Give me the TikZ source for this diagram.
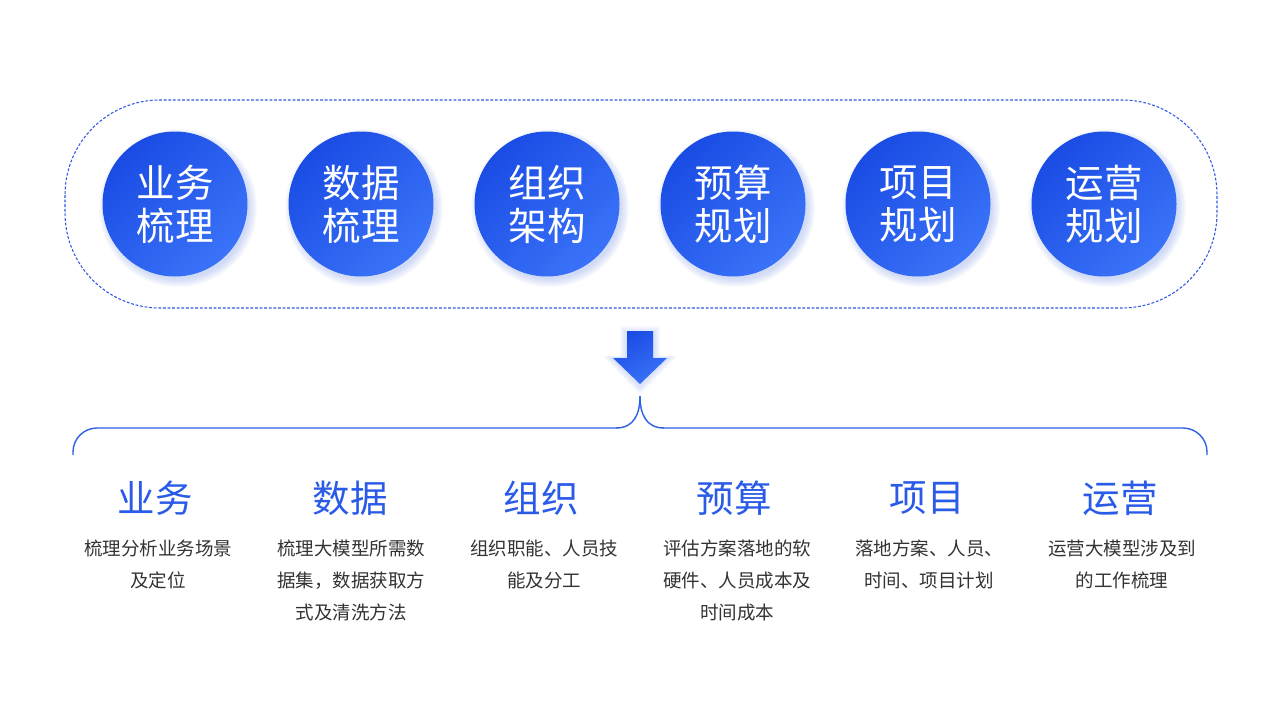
\documentclass[tikz,border=0pt]{standalone}
\usepackage{fontspec}
\setmainfont{Noto Sans CJK SC}
\usetikzlibrary{calc}
\definecolor{cdark}{HTML}{1A4CE4}
\definecolor{clight}{HTML}{3A73F8}
\definecolor{ttlblue}{HTML}{2A5BE8}
\definecolor{linblue}{HTML}{2E5FE8}
\definecolor{dashblue}{HTML}{2C58E4}
\definecolor{glow}{HTML}{8EA8F2}
\definecolor{desc}{HTML}{333333}
\tikzset{
  x=1pt,y=-1pt,
  ball/.style={circle,minimum size=145pt,inner sep=0pt,
    top color=cdark,bottom color=clight,shading angle=45,
    text=white,align=center,font=\fontsize{38.5}{43}\selectfont},
  ttl/.style={text=ttlblue,font=\fontsize{37.5}{43}\selectfont,inner sep=0pt},
  dsc/.style={text=desc,font=\fontsize{18.5}{32}\selectfont,align=center,inner sep=0pt,anchor=base},
}
\begin{document}
\begin{tikzpicture}
\useasboundingbox (0,0) rectangle (1280,720);
\fill[white] (0,0) rectangle (1280,720);
% dashed container
\draw[dashblue,line width=1.05pt,dash pattern=on 2.8pt off 1.8pt,rounded corners=95pt]
  (65,100) rectangle (1217,308);
% glows
\foreach \cx in {175,361,547,733,918,1104}{
  \foreach \r in {1,...,9}{
    \fill[glow,opacity=0.05] (\cx+3,203+5) circle[radius=70+\r];
  }
}
\node[ball] (c1) at (175,204) {业务\\梳理};
\node[ball] (c2) at (361,204) {数据\\梳理};
\node[ball] (c3) at (547,204) {组织\\架构};
\node[ball] (c4) at (733,204) {预算\\规划};
\node[ball] (c5) at (918,204) {项目\\规划};
\node[ball] (c6) at (1104,204) {运营\\规划};
% arrow glow
\foreach \r in {1,...,7}{
  \fill[glow,opacity=0.05,rounded corners=2pt]
    (627-\r,333-\r) -- (653+\r,333-\r) -- (653+\r,358-\r*0.3) -- (667+\r*1.5,358-\r*0.3)
    -- (640,385+\r*1.4) -- (613-\r*1.5,358-\r*0.3) -- (627-\r,358-\r*0.3) -- cycle;
}
\shade[top color=cdark,bottom color=clight,shading angle=30]
  (627,331) -- (653,331) -- (653,358) -- (667,358) -- (640,384) -- (613,358) -- (627,358) -- cycle;
% brace
\coordinate (tip) at (640,396);
\coordinate (bl) at (73,455);
\coordinate (br) at (1207,455);
\draw[linblue,line width=1.4pt,rounded corners=24pt]
  (bl) -- (73,428) -- (617,428);
\draw[linblue,line width=1.4pt]
  (616,428) .. controls (634,428) and (640,414) .. (tip);
\draw[linblue,line width=1.4pt]
  (664,428) .. controls (646,428) and (640,414) .. (tip);
\draw[linblue,line width=1.4pt,rounded corners=24pt]
  (663,428) -- (1207,428) -- (br);
% titles
\node[ttl] (t1) at (155,498) {业务};
\node[ttl] (t2) at (350,498) {数据};
\node[ttl] (t3) at (541,498) {组织};
\node[ttl] (t4) at (734,498) {预算};
\node[ttl] (t5) at (927,498) {项目};
\node[ttl] (t6) at (1120,498) {运营};
% descriptions (anchor = baseline of last line)
\node[dsc] (d1) at (158,587) {梳理分析业务场景\\及定位};
\node[dsc] (d2) at (351,619) {梳理大模型所需数\\据集，数据获取方\\式及清洗方法};
\node[dsc] (d3) at (544,587) {组织职能、人员技\\能及分工};
\node[dsc] (d4) at (737,619) {评估方案落地的软\\硬件、人员成本及\\时间成本};
\node[dsc] (d5) at (929,587) {落地方案、人员、\\时间、项目计划};
\node[dsc] (d6) at (1122,587) {运营大模型涉及到\\的工作梳理};
\end{tikzpicture}
\end{document}
